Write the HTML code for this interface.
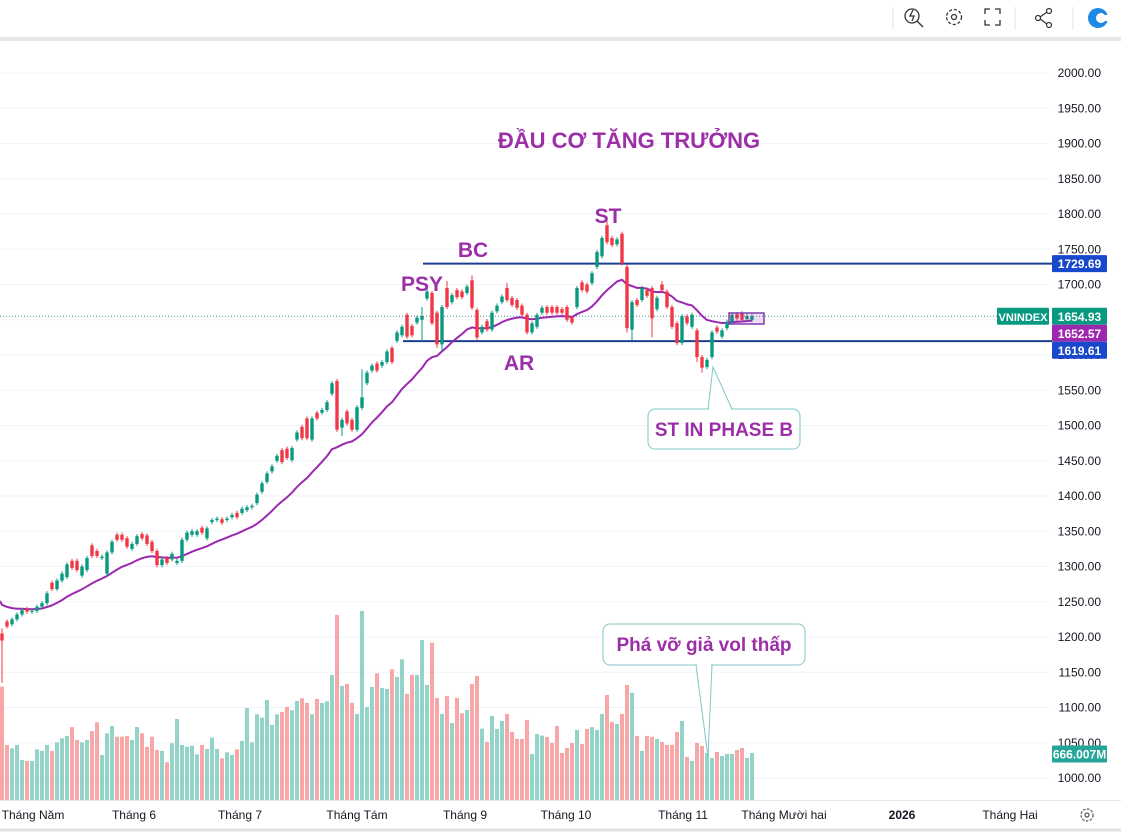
<!DOCTYPE html>
<html><head><meta charset="utf-8"><style>
html,body{margin:0;padding:0;background:#fff;width:1121px;height:832px;overflow:hidden;font-family:"Liberation Sans","DejaVu Sans",sans-serif}
svg{display:block}
</style></head><body>
<svg id="chart" width="1121" height="832" viewBox="0 0 1121 832" xmlns="http://www.w3.org/2000/svg">
<g id="toolbar">
  <rect x="0" y="0" width="1121" height="37" fill="#fff"/>
  <rect x="0" y="37" width="1121" height="4" fill="#e6e6e9"/>
  <line x1="893" y1="7" x2="893" y2="30" stroke="#e0e3eb"/>
  <line x1="1015" y1="7" x2="1015" y2="30" stroke="#e0e3eb"/>
  <line x1="1073" y1="7" x2="1073" y2="30" stroke="#e0e3eb"/>
  <g fill="none" stroke="#333" stroke-width="1.3"><circle cx="912" cy="16" r="7"/><line x1="917" y1="21" x2="923" y2="27"/><path d="M913 10 l-3 6 h4 l-2 5"/></g>
  <g fill="none" stroke="#333" stroke-width="1.3"><circle cx="954" cy="17" r="7.5" stroke-dasharray="3 2"/><circle cx="954" cy="17" r="2.5"/></g>
  <g fill="none" stroke="#333" stroke-width="1.3"><path d="M985 14v-5h5M995 9h5v5M1000 20v5h-5M990 25h-5v-5"/></g>
  <g fill="none" stroke="#333" stroke-width="1.2"><circle cx="1049" cy="11" r="2.5"/><circle cx="1038" cy="18" r="2.5"/><circle cx="1049" cy="25" r="2.5"/><path d="M1040 17l7-5M1040 19l7 5"/></g>
  <g><circle cx="1098" cy="18" r="10" fill="#1e88e5"/><circle cx="1101" cy="18" r="5" fill="#fff"/><rect x="1101" y="15" width="8" height="6" fill="#fff"/></g>
</g>
<g id="grid"></g>
<g id="yaxis"></g>
<g id="levels"></g>
<g id="volumes"></g>
<path id="ma" fill="none" stroke="#9c27b0" stroke-width="2"/>
<g id="candles"></g>
<g id="annot"></g>
<g id="xaxis"></g>
<g id="labels"></g>
</svg>
<script>
const opens=[1205,1222,1218,1225,1232,1240,1236,1237,1243,1248,1277,1268,1280,1285,1308,1308,1287,1295,1330,1322,1312,1290,1320,1345,1345,1340,1325,1332,1346,1344,1335,1322,1302,1312,1310,1305,1308,1338,1345,1345,1355,1340,1363,1366,1367,1366,1370,1376,1376,1380,1384,1390,1406,1420,1435,1450,1465,1467,1451,1480,1498,1510,1480,1518,1518,1522,1545,1563,1497,1520,1508,1494,1525,1560,1578,1588,1585,1590,1610,1620,1628,1657,1641,1646,1650,1680,1688,1660,1615,1695,1675,1692,1690,1688,1706,1664,1632,1648,1636,1662,1675,1695,1681,1678,1670,1657,1632,1640,1660,1668,1668,1668,1665,1668,1653,1668,1703,1700,1702,1725,1740,1784,1766,1757,1772,1725,1636,1678,1678,1692,1695,1665,1700,1690,1668,1645,1617,1655,1640,1635,1597,1583,1597,1639,1626,1638,1646,1658,1659,1651,1650];
const closes=[1195,1215,1225,1232,1238,1236,1237,1243,1248,1262,1268,1280,1290,1303,1298,1295,1300,1312,1315,1315,1314,1320,1335,1338,1338,1328,1332,1343,1340,1332,1322,1302,1310,1305,1318,1308,1338,1348,1350,1350,1348,1354,1366,1368,1362,1368,1373,1370,1382,1384,1386,1402,1418,1432,1442,1457,1448,1454,1468,1490,1482,1482,1510,1510,1522,1533,1560,1494,1508,1503,1494,1526,1540,1575,1585,1578,1590,1605,1590,1632,1640,1626,1628,1653,1655,1690,1645,1615,1668,1668,1685,1682,1682,1697,1667,1625,1640,1636,1660,1670,1683,1678,1671,1667,1657,1632,1645,1657,1667,1660,1660,1660,1660,1650,1646,1695,1692,1690,1716,1746,1766,1760,1756,1764,1730,1638,1675,1671,1695,1684,1652,1681,1692,1668,1640,1617,1655,1645,1657,1597,1582,1593,1632,1633,1635,1647,1657,1652,1650,1655,1654.93];
const highOverrides={0:1212,67:1566,72:1580,84:1668,85:1700,89:1705,94:1713,101:1702,121:1790,124:1775,132:1705};
const lowOverrides={0:1135,21:1285,68:1485,84:1620,87:1610,88:1605,95:1620,125:1632,126:1620,130:1625,139:1590,140:1575};
const volumes=[1643,798,749,798,580,565,565,735,711,798,711,836,894,928,1058,870,836,870,1000,1126,653,967,1073,918,918,928,870,1058,967,769,918,725,711,546,822,1175,798,773,788,662,798,740,904,740,604,691,653,735,856,1334,836,1242,1194,1450,1088,1242,1276,1349,1300,1436,1474,1407,1242,1465,1407,1431,1813,2683,1653,1682,1407,1247,2741,1349,1638,1837,1624,1610,1895,1784,2040,1537,1813,1813,2320,1668,2281,1479,1247,1508,1117,1479,1257,1305,1682,1798,1034,841,1218,1030,1146,1247,986,885,885,1160,667,957,933,914,827,1073,682,754,827,1015,812,1030,1058,1015,1247,1523,1131,1102,1247,1668,1552,928,711,928,914,885,841,798,798,986,1146,624,566,827,783,682,609,696,638,667,667,725,754,609,682];
const maStart=1251;
const priceTicks=[2000,1950,1900,1850,1800,1750,1700,1650,1600,1550,1500,1450,1400,1350,1300,1250,1200,1150,1100,1050,1000];
const timeLabels=["Tháng Năm","Tháng 6","Tháng 7","Tháng Tám","Tháng 9","Tháng 10","Tháng 11","Tháng Mười hai","2026","Tháng Hai"];
const timeLabelX=[33,134,240,357,465,566,683,784,902,1010];
const levelValues=[1729.69,1619.61];
const lastPrice=1654.93, maLast=1652.57, lastVolume="666.007M";

const NS="http://www.w3.org/2000/svg";
const yP=p=>73+(2000-p)*0.705;
const xI=i=>2+i*5;
const yV=v=>800-v*0.069;
function mk(tag,attrs,parent,text){const e=document.createElementNS(NS,tag);for(const k in attrs)e.setAttribute(k,attrs[k]);if(text!==undefined)e.textContent=text;parent.appendChild(e);return e;}
const G=id=>document.getElementById(id);

priceTicks.forEach(p=>{
  const y=yP(p);
  const gl=mk('line',{x1:0,x2:1050,y1:y,y2:y,stroke:'#f0f3fa','stroke-width':1},G('grid'));
  
  
  const t=mk('text',{x:1101,y:y+4,'text-anchor':'end','font-size':12,fill:'#131722'},G('yaxis'),p.toFixed(2));
  
  
});
mk('line',{x1:0,x2:1121,y1:800.5,y2:800.5,stroke:'#e6e6e9'},G('grid'));
mk('line',{x1:0,x2:1121,y1:830,y2:830,stroke:'#e0e0e0','stroke-width':3},G('grid'));

const dl=mk('line',{x1:0,x2:1050,y1:yP(lastPrice),y2:yP(lastPrice),stroke:'#3f8f86','stroke-width':1,'stroke-dasharray':'1 2'},G('levels'));


const lv1=mk('line',{x1:423,x2:1052,y1:yP(levelValues[0]),y2:yP(levelValues[0]),stroke:'#1c3f8f','stroke-width':2},G('levels'));


const lv2=mk('line',{x1:403,x2:1052,y1:yP(levelValues[1]),y2:yP(levelValues[1]),stroke:'#1c3f8f','stroke-width':2},G('levels'));



volumes.forEach((v,i)=>{
  const up=closes[i]>=opens[i];
  const r=mk('rect',{x:xI(i)-2,y:yV(v),width:4,height:800-yV(v),fill:up?'#94d3c8':'#f7a7a8'},G('volumes'));
  
  
});

// EMA20
let ema=maStart;const k=2/21;
let d='M0 '+yP(maStart).toFixed(1);
closes.forEach((c,i)=>{
  ema=c*k+ema*(1-k);
  d+=' L'+xI(i)+' '+yP(ema).toFixed(1);
});
G('ma').setAttribute('d',d);

closes.forEach((c,i)=>{
  const o=opens[i],up=c>=o;
  const hi=highOverrides[i]!==undefined?highOverrides[i]:Math.max(o,c)+3;
  const lo=lowOverrides[i]!==undefined?lowOverrides[i]:Math.min(o,c)-3;
  const col=up?'#089981':'#f23645';
  const g=mk('g',{},G('candles'));
  
  
  mk('line',{x1:xI(i),x2:xI(i),y1:yP(hi),y2:yP(lo),stroke:col,'stroke-width':1},g);
  const yt=yP(Math.max(o,c)),yb=yP(Math.min(o,c));
  mk('rect',{x:xI(i)-1.7,y:yt,width:3.4,height:Math.max(1,yb-yt),fill:col},g);
});

timeLabels.forEach((t,i)=>{
  const e=mk('text',{x:timeLabelX[i],y:819,'text-anchor':'middle','font-size':12,fill:'#131722','font-weight':t==='2026'?'bold':'normal'},G('xaxis'),t);
  
  
});
const gear=mk('g',{fill:'none',stroke:'#555','stroke-width':1.2},G('xaxis'));


mk('circle',{cx:1087,cy:815,r:6,'stroke-dasharray':'2.5 1.5'},gear);
mk('circle',{cx:1087,cy:815,r:2},gear);

function badge(y,txt,bg,name,x,w,fs){
  const g=mk('g',{},G('labels'));
  
  
  mk('rect',{x:x,y:y-8.5,width:w,height:17,rx:1,fill:bg},g);
  mk('text',{x:x+w/2,y:y+4.5,'text-anchor':'middle','font-size':fs||12,'font-weight':'bold',fill:'#fff'},g,txt);
}
const yl=yP(lastPrice);
badge(yP(levelValues[0]),levelValues[0].toFixed(2),'#1848cc','bc-price-badge',1052,55);
badge(yl,lastPrice.toFixed(2),'#089981','last-price-badge',1052,55);
badge(yl+17,maLast.toFixed(2),'#9c27b0','ma-price-badge',1052,55);
badge(yl+34,levelValues[1].toFixed(2),'#1848cc','ar-price-badge',1052,55);
badge(yl,'VNINDEX','#089981','symbol-badge',997,52,11);
badge(754,lastVolume,'#26a69a','volume-badge',1052,55);

const A=G('annot');
function txt(x,y,s,size,name){const e=mk('text',{x:x,y:y,'text-anchor':'middle','font-size':size,'font-weight':'bold',fill:'#9c2fa8'},A,s);return e;}
txt(629,148,'ĐẦU CƠ TĂNG TRƯỞNG',22,'title-annotation');
txt(608,223,'ST',21,'st-label');
txt(473,257,'BC',21,'bc-label');
txt(422,291,'PSY',21,'psy-label');
txt(519,370,'AR',21,'ar-label');
const sel=mk('rect',{x:729,y:313,width:35,height:11,fill:'rgba(156,39,176,0.15)',stroke:'#7b3fb0','stroke-width':1.5},A);


const c1=mk('g',{},A);


mk('path',{d:'M708 409 L713 367 L732 409',fill:'#fff',stroke:'#7fc7c7','stroke-width':1},c1);
mk('rect',{x:648,y:409,width:152,height:40,rx:7,fill:'#fff',stroke:'#7fc7c7','stroke-width':1},c1);
mk('line',{x1:709,x2:731,y1:409,y2:409,stroke:'#fff','stroke-width':2},c1);
mk('text',{x:724,y:436,'text-anchor':'middle','font-size':19,'font-weight':'bold',fill:'#9c2fa8'},c1,'ST IN PHASE B');
const c2=mk('g',{},A);


mk('path',{d:'M696 665 L708 757 L712 665',fill:'#fff',stroke:'#7fc7c7','stroke-width':1},c2);
mk('rect',{x:603,y:624,width:202,height:41,rx:7,fill:'#fff',stroke:'#7fc7c7','stroke-width':1},c2);
mk('line',{x1:697,x2:711,y1:665,y2:665,stroke:'#fff','stroke-width':2},c2);
mk('text',{x:704,y:651,'text-anchor':'middle','font-size':19,'font-weight':'bold',fill:'#9c2fa8'},c2,'Phá vỡ giả vol thấp');
</script>
</body></html>
